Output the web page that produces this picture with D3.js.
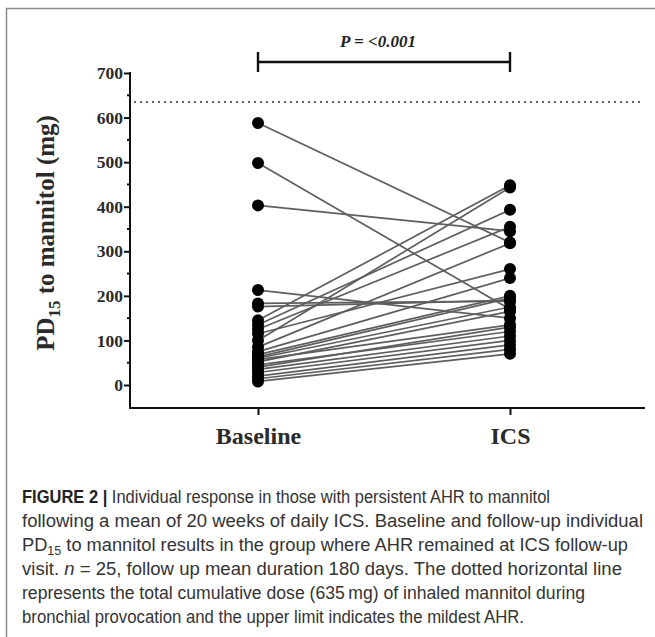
<!DOCTYPE html>
<html>
<head>
<meta charset="utf-8">
<script src="https://cdn.jsdelivr.net/npm/d3@7"></script>
<style>
  html, body { margin: 0; padding: 0; background: #fff; }
  svg { display: block; }
</style>
</head>
<body>
<svg id="chart" width="655" height="637"></svg>
<script>
// ---- data ----
const groups = ["Baseline", "ICS"];
const baselineValues = [588, 498, 403, 213, 183, 176, 145, 135, 125, 115, 100, 85, 75, 68, 63, 60, 57, 52, 45, 40, 35, 28, 20, 14, 8];
const icsValues      = [320, 170, 345, 150, 188, 190, 448, 393, 355, 260, 443, 318, 240, 200, 195, 175, 135, 165, 120, 130, 110, 100, 90, 80, 70];
const yTicks = [0, 100, 200, 300, 400, 500, 600, 700];
const yMinorTicks = [50, 150, 250, 350, 450, 550, 650];
const cumulativeDose = 635;
const pLabel = "P = <0.001";
const yLabelMain = "PD";
const yLabelSub = "15";
const yLabelRest = " to mannitol (mg)";

const svg = d3.select("#chart");

// frame
svg.append("rect").attr("x", 6.5).attr("y", 8.5).attr("width", 660).attr("height", 640)
  .attr("fill", "none").attr("stroke", "#8a8a8a").attr("stroke-width", 1.5);

const y = d3.scaleLinear().domain([0, 700]).range([385, 73]);
const x = d3.scalePoint().domain(groups).range([258, 510]);
const axisX0 = 130, axisY0 = 408, axisXEnd = 645;

const serif = "'Liberation Serif', 'Times New Roman', serif";

// y axis
const gy = svg.append("g").attr("transform", `translate(${axisX0},0)`);
gy.call(d3.axisLeft(y).tickValues(yTicks).tickSize(6).tickSizeOuter(0).tickPadding(1));
gy.select(".domain").remove();
gy.selectAll(".tick line").attr("stroke", "#111").attr("stroke-width", 2);
gy.selectAll(".tick text").attr("font-family", serif).attr("font-weight", "bold")
  .attr("font-size", 17.5).attr("fill", "#2a2a2a");
gy.append("g").selectAll("line").data(yMinorTicks).join("line")
  .attr("x1", -3).attr("x2", 0).attr("y1", d => y(d)).attr("y2", d => y(d))
  .attr("stroke", "#111").attr("stroke-width", 2);
gy.append("line").attr("x1", 0).attr("x2", 0).attr("y1", y(700) - 1).attr("y2", axisY0 + 1)
  .attr("stroke", "#111").attr("stroke-width", 2);

// x axis
const gx = svg.append("g").attr("transform", `translate(0,${axisY0})`);
gx.call(d3.axisBottom(x).tickSize(7).tickSizeOuter(0).tickPadding(12));
gx.select(".domain").remove();
gx.selectAll(".tick line").attr("stroke", "#111").attr("stroke-width", 2);
gx.selectAll(".tick text").attr("font-family", serif).attr("font-weight", "bold")
  .attr("font-size", 24).attr("fill", "#2a2a2a");
gx.append("line").attr("x1", axisX0 - 1).attr("x2", axisXEnd).attr("y1", 0).attr("y2", 0)
  .attr("stroke", "#111").attr("stroke-width", 2);

// dotted limit line
svg.append("line").attr("x1", axisX0 + 4).attr("x2", 642)
  .attr("y1", y(cumulativeDose)).attr("y2", y(cumulativeDose))
  .attr("stroke", "#666").attr("stroke-width", 2).attr("stroke-dasharray", "2,4");

// paired lines
const pairs = baselineValues.map((b, i) => [b, icsValues[i]]);
svg.append("g").selectAll("line").data(pairs).join("line")
  .attr("x1", x("Baseline")).attr("x2", x("ICS"))
  .attr("y1", d => y(d[0])).attr("y2", d => y(d[1]))
  .attr("stroke", "#5e5e5e").attr("stroke-width", 1.7);

// points
const dots = svg.append("g");
dots.selectAll("circle.b").data(baselineValues).join("circle").attr("class", "b")
  .attr("cx", x("Baseline")).attr("cy", d => y(d)).attr("r", 6).attr("fill", "#000");
dots.selectAll("circle.i").data(icsValues).join("circle").attr("class", "i")
  .attr("cx", x("ICS")).attr("cy", d => y(d)).attr("r", 6).attr("fill", "#000");

// significance bracket
const by = 62;
const br = svg.append("g").attr("stroke", "#111").attr("stroke-width", 2.4);
br.append("line").attr("x1", x("Baseline")).attr("x2", x("ICS")).attr("y1", by).attr("y2", by);
br.append("line").attr("x1", x("Baseline")).attr("x2", x("Baseline")).attr("y1", by - 10).attr("y2", by + 10);
br.append("line").attr("x1", x("ICS")).attr("x2", x("ICS")).attr("y1", by - 10).attr("y2", by + 10);
svg.append("text").attr("x", (x("Baseline") + x("ICS")) / 2 - 6).attr("y", 47)
  .attr("text-anchor", "middle").attr("font-family", serif).attr("font-weight", "bold")
  .attr("font-style", "italic").attr("font-size", 17).attr("fill", "#222").text(pLabel);

// y axis title
const yt = svg.append("text").attr("transform", "translate(54,233) rotate(-90)")
  .attr("text-anchor", "middle").attr("font-family", serif).attr("font-weight", "bold")
  .attr("font-size", 25).attr("fill", "#2a2a2a");
yt.append("tspan").text(yLabelMain);
yt.append("tspan").attr("font-size", 17).attr("dy", 6).text(yLabelSub);
yt.append("tspan").attr("dy", -6).text(yLabelRest);

// caption
const sans = "'Liberation Sans', Arial, Helvetica, sans-serif";
const cap = svg.append("g").attr("font-family", sans).attr("font-size", 17.5).attr("fill", "#333");
const lineY = [503, 527, 551, 575, 599, 623];
const lineLen = [528, 621, 606, 600, 563, 502];
const txt = (i) => cap.append("text").attr("x", 22).attr("y", lineY[i])
  .attr("textLength", lineLen[i]).attr("lengthAdjust", "spacingAndGlyphs");
const c1 = txt(0);
c1.append("tspan").attr("font-weight", "bold").attr("fill", "#222").text("FIGURE 2 |");
c1.append("tspan").text(" Individual response in those with persistent AHR to mannitol");
txt(1).text("following a mean of 20 weeks of daily ICS. Baseline and follow-up individual");
const c3 = txt(2);
c3.append("tspan").text("PD");
c3.append("tspan").attr("font-size", 12).attr("dy", 4).text("15");
c3.append("tspan").attr("dy", -4).text(" to mannitol results in the group where AHR remained at ICS follow-up");
const c4 = txt(3);
c4.append("tspan").text("visit. ");
c4.append("tspan").attr("font-style", "italic").text("n");
c4.append("tspan").text(" = 25, follow up mean duration 180 days. The dotted horizontal line");
txt(4).text("represents the total cumulative dose (635\u2009mg) of inhaled mannitol during");
txt(5).text("bronchial provocation and the upper limit indicates the mildest AHR.");
</script>
</body>
</html>
